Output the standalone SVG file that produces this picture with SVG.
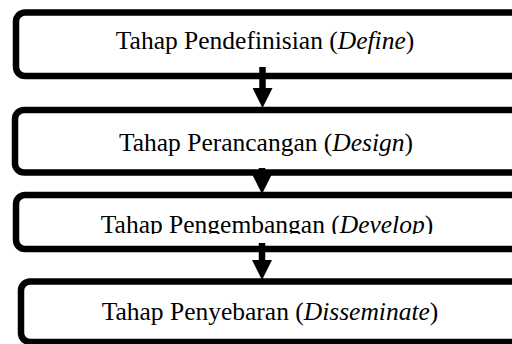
<svg xmlns="http://www.w3.org/2000/svg" width="512" height="344" viewBox="0 0 512 344">
<defs>
<style>
.box{fill:#fff;stroke:#000;stroke-width:6.5}
.lbl{font-family:"Liberation Serif","Times New Roman",serif;font-size:25.5px;fill:#000;text-anchor:middle}
.it{font-style:italic}
.con{stroke:#000;stroke-width:6.5;fill:none}
</style>
<marker id="ah" markerUnits="userSpaceOnUse" markerWidth="20" markerHeight="20" refX="0" refY="10" orient="auto" viewBox="0 0 20 20">
<path d="M0,0 L20,10 L0,20 Z" fill="#000"/>
</marker>
<clipPath id="c3"><rect x="0" y="190" width="512" height="44"/></clipPath>
</defs>
<rect width="512" height="344" fill="#fff"/>
<g id="n1"><rect class="box" x="16" y="12.5" width="520" height="63.5" rx="9"/><text class="lbl" x="265" y="49">Tahap Pendefinisian (<tspan class="it">Define</tspan>)</text></g>
<g id="n2"><rect class="box" x="15" y="110" width="520" height="62.5" rx="9"/><text class="lbl" x="266" y="151">Tahap Perancangan (<tspan class="it">Design</tspan>)</text></g>
<g id="n3"><rect class="box" x="16" y="195" width="520" height="54" rx="9"/><text class="lbl" x="267" y="233" clip-path="url(#c3)">Tahap Pengembangan (<tspan class="it">Develop</tspan>)</text></g>
<g id="n4"><rect class="box" x="21" y="281.5" width="520" height="60.5" rx="9"/><text class="lbl" x="270" y="320">Tahap Penyebaran (<tspan class="it">Disseminate</tspan>)</text></g>
<g id="connectors">
<line class="con" x1="262.5" y1="67" x2="262.5" y2="88" marker-end="url(#ah)"/>
<line class="con" x1="262" y1="168" x2="262" y2="174" marker-end="url(#ah)"/>
<line class="con" x1="262" y1="243" x2="262" y2="260" marker-end="url(#ah)"/>
</g>
</svg>
